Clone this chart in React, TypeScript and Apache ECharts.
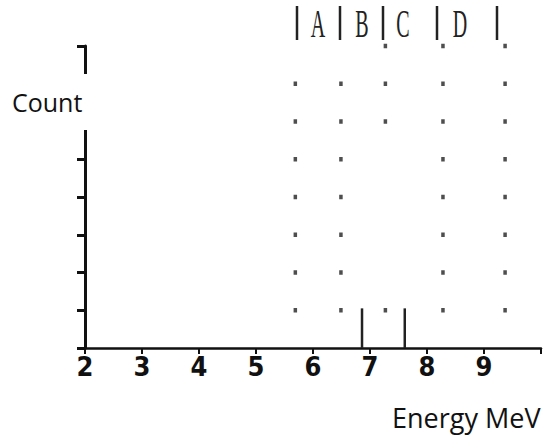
import React, { useEffect, useRef } from "react";
import * as echarts from "echarts";

// Energy tick labels (MeV)
const xTicks = [2, 3, 4, 5, 6, 7, 8, 9];
// Spectrum spikes: [energy MeV, count]
const spikeEnergies = [6.86, 7.61];
const spikeCounts = [1.05, 1.05];
// Dotted grid columns (energy, MeV) and the count rows in which a dot is printed
const dotColumns = [5.69, 6.49, 7.27, 8.28, 9.37];
const dotRows = [
  [1, 2, 3, 4, 5, 6, 7],
  [1, 2, 3, 4, 5, 6, 7],
  [1, 6, 7, 8],
  [1, 2, 3, 4, 5, 6, 7, 8],
  [1, 2, 3, 4, 5, 6, 7, 8],
];
// Band letters printed along the top
const bandLetters = ["A", "B", "C", "D"];

export default function App() {
  const ref = useRef<HTMLDivElement>(null);
  useEffect(() => {
    if (!ref.current) return;
    const chart = echarts.init(ref.current, null, { renderer: "svg" });
    const dots: number[][] = [];
    dotColumns.forEach((x, i) => dotRows[i].forEach((y) => dots.push([x, y])));
    const spikes = spikeEnergies.map((e, i) => [e, spikeCounts[i]]);

    const letterX = [318, 362, 403, 460];
    const barX = [297, 340, 383, 437, 497];

    chart.setOption({
      animation: false,
      backgroundColor: "#ffffff",
      grid: { left: 85, top: 46, width: 460, height: 302 },
      xAxis: {
        type: "value",
        min: 2,
        max: 10,
        interval: 1,
        axisLine: { lineStyle: { color: "#111", width: 2.5 } },
        axisTick: { show: true, length: 6, lineStyle: { color: "#111", width: 2 } },
        axisLabel: {
          color: "#111",
          fontFamily: "'DejaVu Sans Condensed', 'DejaVu Sans', sans-serif",
          fontWeight: "bold",
          fontSize: 27,
          margin: 5,
          formatter: (v: number) => (xTicks.includes(v) ? String(v) : ""),
        },
        splitLine: { show: false },
      },
      yAxis: {
        type: "value",
        min: 0,
        max: 8,
        interval: 1,
        axisLine: { show: true, lineStyle: { color: "#111", width: 3 } },
        axisTick: { show: true, length: 8, lineStyle: { color: "#111", width: 3 } },
        axisLabel: { show: false },
        splitLine: { show: false },
      },
      series: [
        {
          type: "scatter",
          data: dots,
          symbol: "rect",
          symbolSize: [3.5, 4.5],
          itemStyle: { color: "#222" },
          z: 3,
        },
        {
          type: "bar",
          data: spikes,
          barWidth: 2.5,
          itemStyle: { color: "#222" },
          z: 4,
        },
      ],
      graphic: [
        { type: "rect", z: 100, shape: { x: 70, y: 74, width: 24, height: 56 }, style: { fill: "#fff" } },
        {
          type: "text",
          z: 101,
          x: 12,
          y: 102,
          style: {
            text: "Count",
            fill: "#111",
            fontFamily: "'Open Sans', sans-serif",
            fontSize: 25,
            verticalAlign: "middle",
            align: "left",
          },
        },
        {
          type: "text",
          z: 101,
          x: 392,
          y: 417,
          style: {
            text: "Energy MeV",
            fill: "#111",
            fontFamily: "'Open Sans', sans-serif",
            fontSize: 27,
            verticalAlign: "middle",
            align: "left",
          },
        },
        ...bandLetters.map((t, i) => ({
          type: "text",
          z: 101,
          x: letterX[i],
          y: 24,
          scaleX: 0.5,
          style: {
            text: t,
            fill: "#222",
            fontFamily: "'Liberation Serif', 'DejaVu Serif', serif",
            fontSize: 40,
            verticalAlign: "middle",
            align: "center",
          },
        })),
        ...barX.map((x) => ({
          type: "line",
          z: 101,
          shape: { x1: x, y1: 6, x2: x, y2: 40 },
          style: { stroke: "#222", lineWidth: 2.5 },
        })),
      ],
    });
    return () => chart.dispose();
  }, []);
  return (
    <div
      ref={ref}
      style={{ position: "fixed", left: 0, top: 0, width: 544, height: 435 }}
    />
  );
}
